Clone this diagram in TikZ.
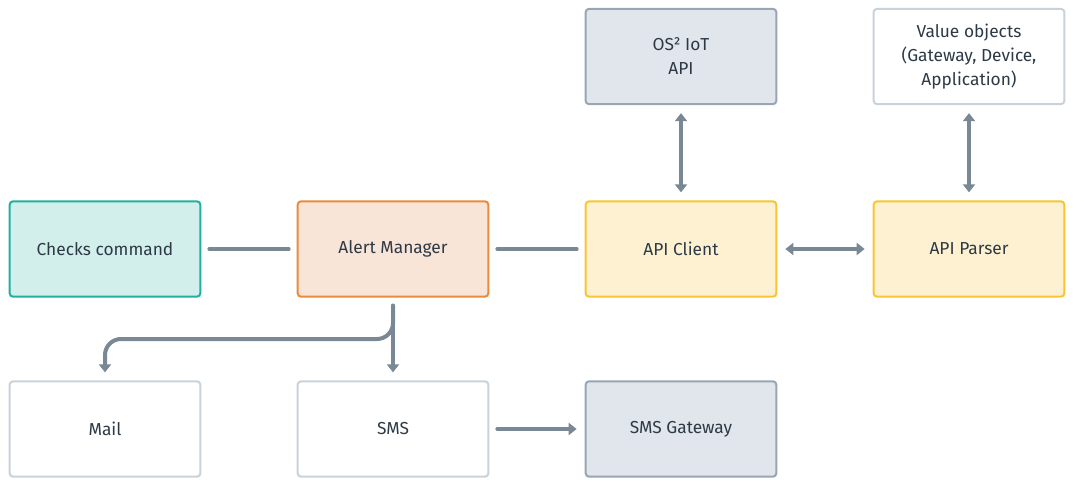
\documentclass[tikz,border=0pt]{standalone}
\usepackage{fontspec}
\setmainfont{Fira Sans}
\usetikzlibrary{arrows.meta}
\definecolor{txt}{HTML}{2D3A45}
\definecolor{ln}{HTML}{7A8794}
\definecolor{tealF}{HTML}{D2EFEC}\definecolor{tealD}{HTML}{20B09F}
\definecolor{orF}{HTML}{F9E4D8}\definecolor{orD}{HTML}{EA8A3C}
\definecolor{yeF}{HTML}{FDF1D1}\definecolor{yeD}{HTML}{F8C42F}
\definecolor{grF}{HTML}{E1E5EC}\definecolor{grD}{HTML}{98A6B4}
\definecolor{whD}{HTML}{C8D2DB}
\tikzset{
  box/.style={draw, line width=1.5pt, rounded corners=2.5pt, minimum width=143pt, minimum height=71.5pt,
    align=center, text=txt, font=\fontsize{13}{18}\selectfont, inner sep=0pt},
  tealbox/.style={box, fill=tealF, draw=tealD},
  orbox/.style={box, fill=orF, draw=orD},
  yebox/.style={box, fill=yeF, draw=yeD},
  grbox/.style={box, fill=grF, draw=grD},
  whbox/.style={box, fill=white, draw=whD},
  conn/.style={draw=ln, line width=3pt, line cap=round, shorten >=6pt, shorten <=6pt},
  tip/.style={-{Triangle[length=6pt,width=9pt]}},
  tips/.style={{Triangle[length=6pt,width=9pt]}-{Triangle[length=6pt,width=9pt]}},
}
\begin{document}
\begin{tikzpicture}[x=0.75pt,y=-0.75pt]
\useasboundingbox (0,0) rectangle (1074,486);
\node[grbox] (os) at (681,56.5) {OS² IoT\\API};
\node[whbox] (vo) at (969,56.5) {Value objects\\(Gateway, Device,\\Application)};
\node[tealbox] (cc) at (105,249) {Checks command};
\node[orbox] (am) at (393,249) {Alert Manager};
\node[yebox] (ac) at (681,249) {API Client};
\node[yebox] (ap) at (969,249) {API Parser};
\node[whbox] (mail) at (105,429) {Mail};
\node[whbox] (sms) at (393,429) {SMS};
\node[grbox] (gw) at (681,429) {SMS Gateway};
\draw[conn] (cc) -- (am);
\draw[conn] (am) -- (ac);
\draw[conn,tips] (ac) -- (ap);
\draw[conn,tips] (os) -- (ac);
\draw[conn,tips] (vo) -- (ap);
\draw[conn,tip] (sms) -- (gw);
\draw[conn,tip] (am) -- (sms);
\coordinate (br) at (393,339);
\draw[conn,tip,rounded corners=12pt] (am.south) -- (br) -- (mail.north |- br) -- (mail.north);
\end{tikzpicture}
\end{document}
